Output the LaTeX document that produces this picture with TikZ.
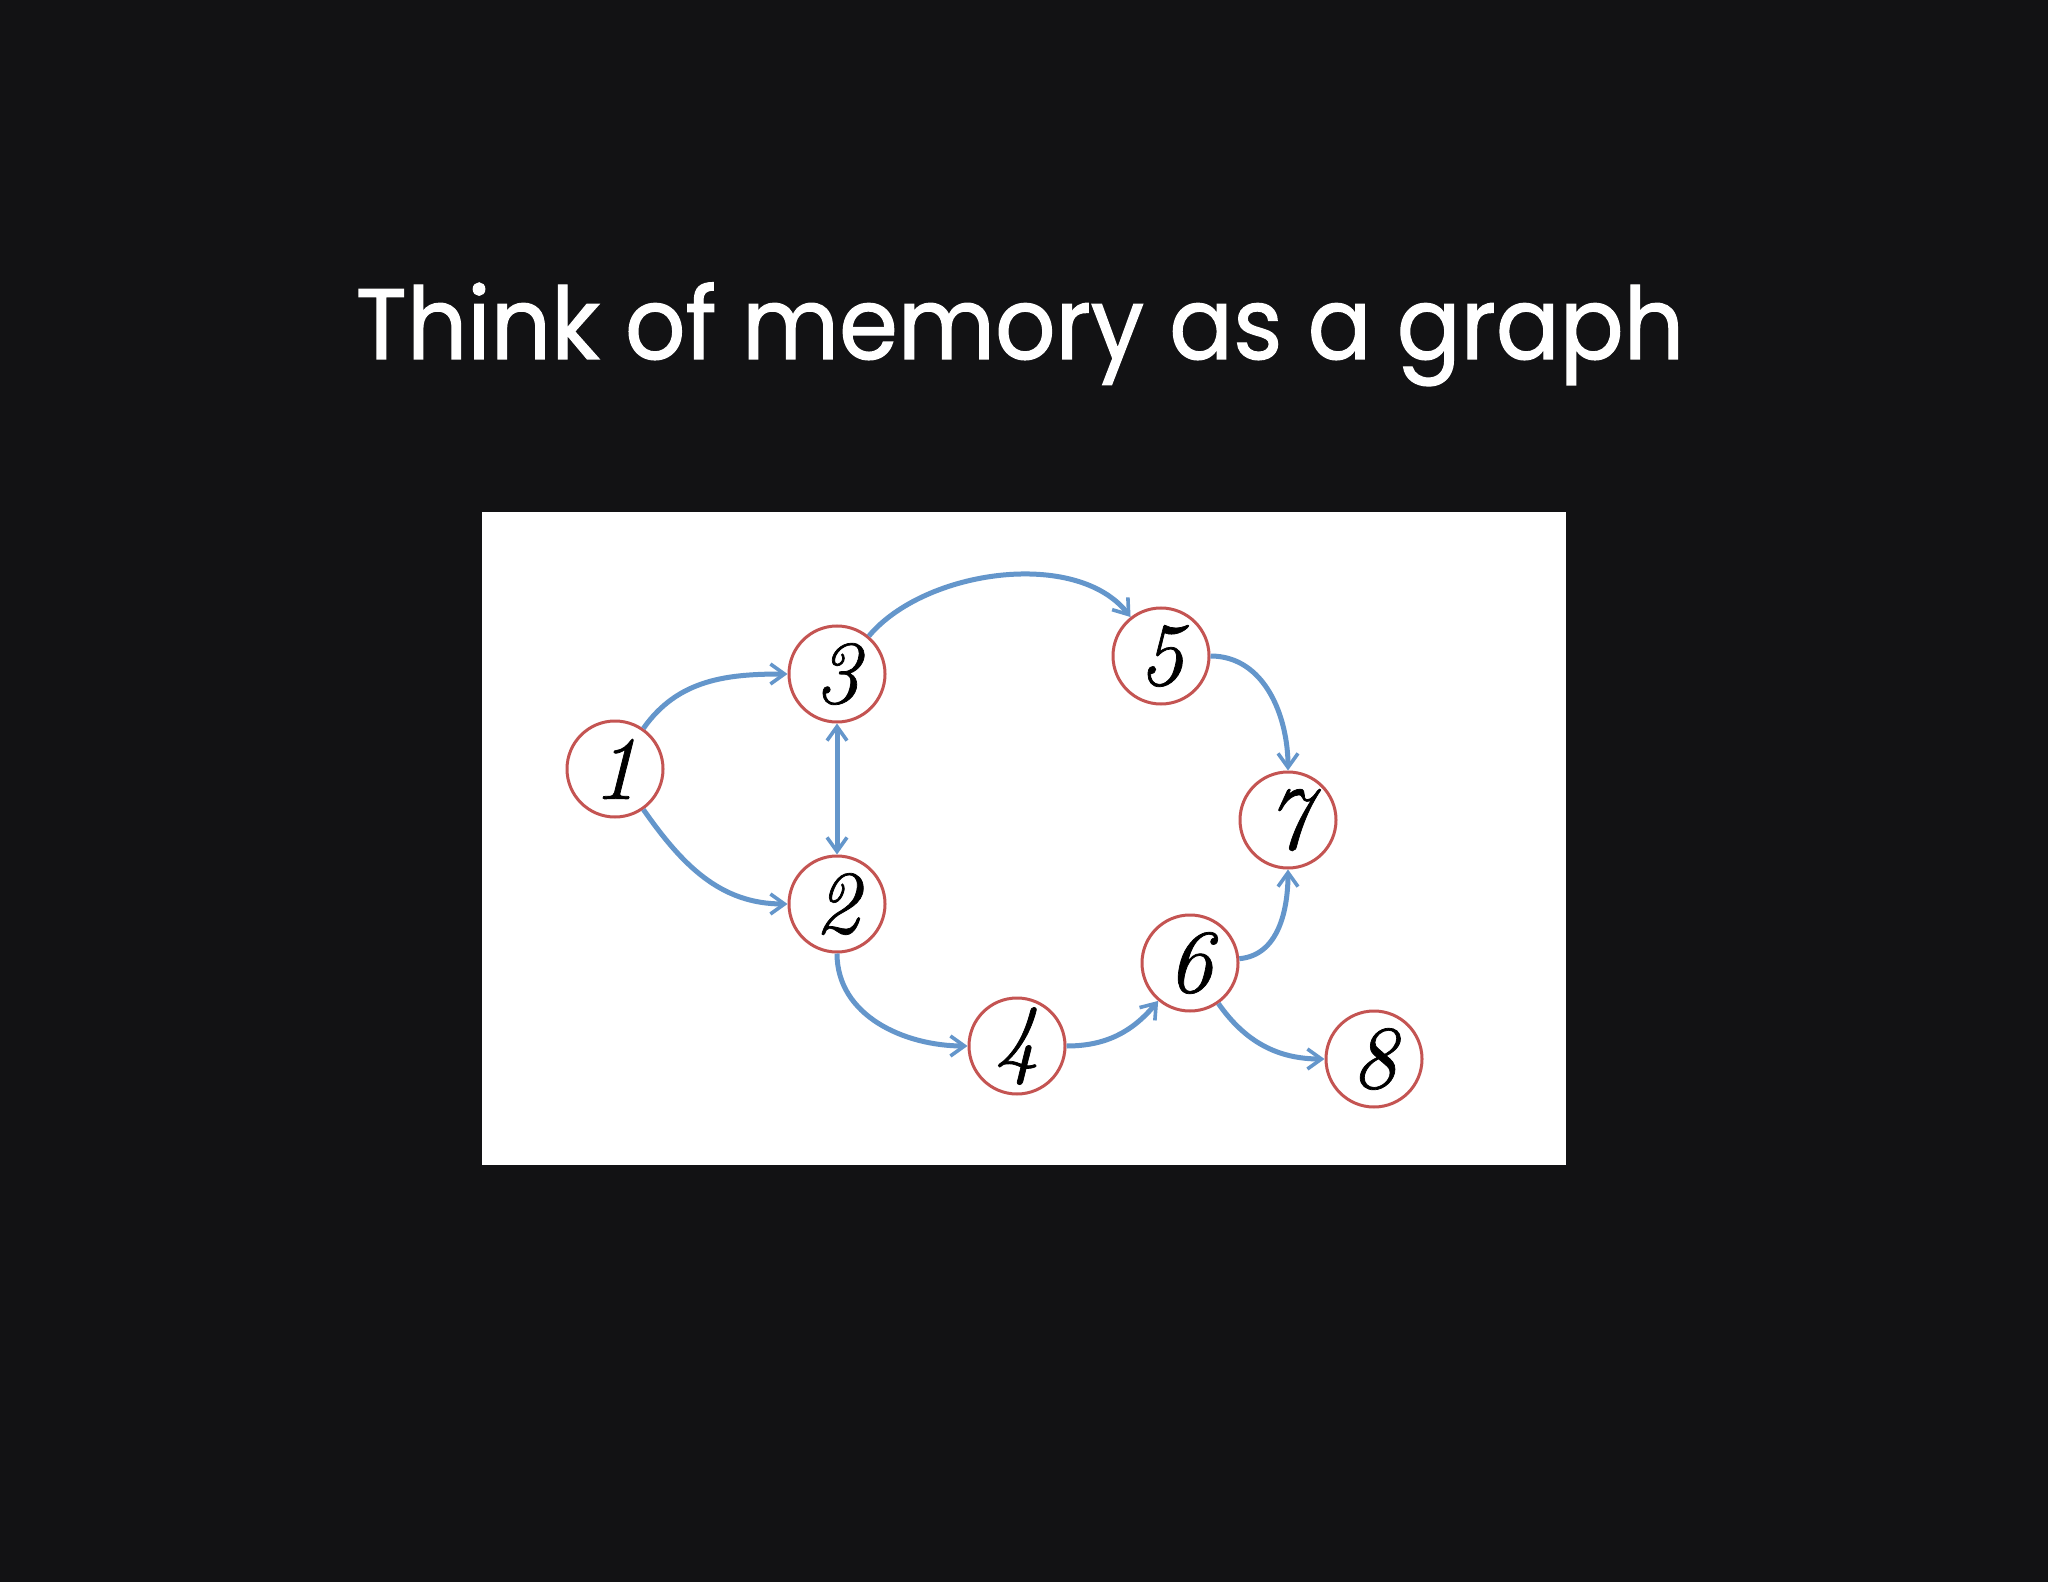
\documentclass[tikz,border=0pt]{standalone}
\usepackage{fontspec}
\newfontfamily\titlefont[FakeBold=1.3]{Poppins}
\newfontfamily\digitfont[FakeBold=0.8]{Latin Modern Roman}
\usetikzlibrary{arrows.meta}
\definecolor{bgdark}{RGB}{18,18,20}
\definecolor{edgeblue}{RGB}{100,150,203}
\definecolor{ringred}{RGB}{196,84,82}
\begin{document}
\begin{tikzpicture}[x=0.5pt,y=0.5pt,
  vnode/.style={circle,draw=ringred,line width=1.5pt,fill=white,minimum size=48pt,inner sep=0pt,
    font=\digitfont\fontsize{45}{45}\selectfont\itshape},
  tip/.style={Straight Barb[length=7pt,width=10pt,line width=1.8pt]},
  edge/.style={draw=edgeblue,line width=2.5pt,-{Straight Barb[length=7pt,width=10pt,line width=1.8pt]}},
  dedge/.style={draw=edgeblue,line width=2.5pt,{Straight Barb[length=7pt,width=10pt,line width=1.8pt]}-{Straight Barb[length=7pt,width=10pt,line width=1.8pt]}}]
\fill[bgdark] (0,0) rectangle (2048,-1582);
\useasboundingbox (0,0) rectangle (2048,-1582);
\fill[white] (482,-512) rectangle (1566,-1165);
\node[anchor=base,text=white,font=\titlefont\fontsize{50}{50}\selectfont] (title) at (1020,-359) {\scalebox{0.945}[1]{Think of memory as a graph}};
\node[vnode] (n1) at (615,-769) {1};
\node[vnode] (n3) at (837,-674) {3};
\node[vnode] (n2) at (837,-904) {2};
\node[vnode] (n5) at (1161,-656) {5};
\node[vnode] (n7) at (1288,-820) {7};
\node[vnode] (n6) at (1190,-963) {6};
\node[vnode] (n4) at (1017,-1046) {4};
\node[vnode] (n8) at (1374,-1059) {8};
\draw[edge] (n1) to[out=55,in=180] (n3);
\draw[edge] (n1) to[out=-55,in=180] (n2);
\draw[dedge] (n3) -- (n2);
\draw[edge] (n3) to[out=50,in=128,looseness=0.85] (n5);
\draw[edge] (n5) to[out=0,in=90] (n7);
\draw[edge] (n2) to[out=-90,in=180] (n4);
\draw[edge] (n4) to[out=0,in=-130] (n6);
\draw[edge] (n6) to[out=5,in=-90] (n7);
\draw[edge] (n6) to[out=-55,in=180] (n8);
\end{tikzpicture}
\end{document}
